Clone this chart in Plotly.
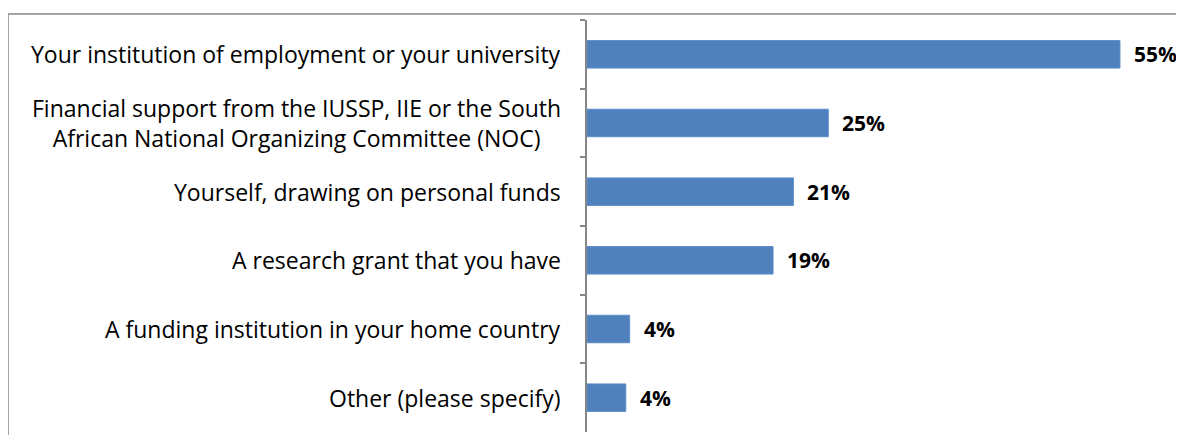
import plotly.graph_objects as go

categories = [
    "Your institution of employment or your university",
    "Financial support from the IUSSP, IIE or the South<br>African National Organizing Committee (NOC)",
    "Yourself, drawing on personal funds",
    "A research grant that you have",
    "A funding institution in your home country",
    "Other (please specify)",
]
values = [55.0, 24.9, 21.3, 19.2, 4.4, 4.0]
value_labels = ["55%", "25%", "21%", "19%", "4%", "4%"]

OFF = 8  # page body margin
W, H = 1184 - OFF, 435 - OFF
L, T, B, R = 587 - OFF, 20 - OFF, 3, 0
pw, ph = W - L - R, H - T - B
FONT = "Open Sans"

fig = go.Figure()
fig.add_trace(go.Bar(
    y=categories, x=values, orientation="h",
    marker=dict(color="#4F81BD", line=dict(color="#5B8CC8", width=1)),
    width=0.4, hoverinfo="skip",
))

ann = []
for c, v, lab in zip(categories, values, value_labels):
    ann.append(dict(x=v, y=c, xref="x", yref="y", text=f"<b>{lab}</b>",
                    showarrow=False, xanchor="left", xshift=12,
                    font=dict(family=FONT, size=21, color="#000000")))
    ann.append(dict(x=-24 / pw, y=c, xref="paper", yref="y", text=c,
                    showarrow=False, xanchor="right", align="center",
                    font=dict(family=FONT, size=23, color="#000000")))

def px(x):
    return (x - OFF - L) / pw

def py(y):
    return (H - B - (y - OFF)) / ph

shapes = [
    dict(type="line", xref="paper", yref="paper", x0=px(8), x1=px(1190), y0=py(14), y1=py(14),
         line=dict(color="#868686", width=1.5)),
    dict(type="line", xref="paper", yref="paper", x0=px(8), x1=px(8), y0=py(14), y1=py(445),
         line=dict(color="#868686", width=1.5)),
]

fig.update_layout(
    width=W, height=H,
    margin=dict(l=L, r=R, t=T, b=B),
    paper_bgcolor="white", plot_bgcolor="white",
    showlegend=False,
    annotations=ann, shapes=shapes,
    xaxis=dict(range=[0, pw / 9.69], visible=False, showgrid=False, zeroline=False),
    yaxis=dict(autorange="reversed", showgrid=False, zeroline=False,
               showline=True, linecolor="#868686", linewidth=1.5,
               ticks="outside", ticklen=5, tickcolor="#868686", tickwidth=1.5,
               tickson="boundaries", showticklabels=False),
    bargap=0.6,
)

fig.write_html("out.html")
